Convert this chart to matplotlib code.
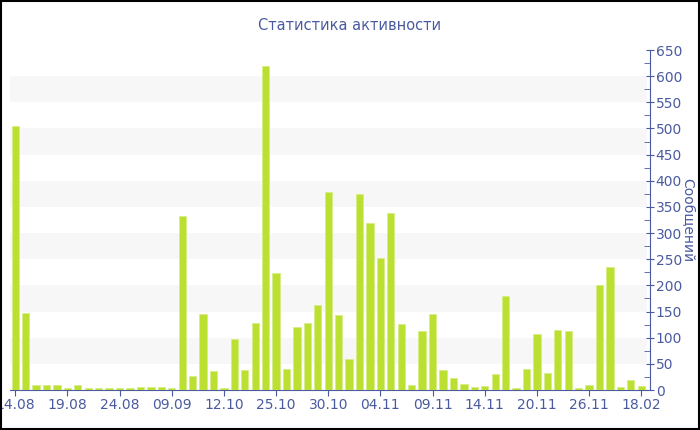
import matplotlib
matplotlib.use("Agg")
import matplotlib.pyplot as plt
from matplotlib.ticker import MultipleLocator
import numpy as np

# messages per day
messages = [505, 147, 9, 9, 9, 3, 9, 4, 3, 3,
            4, 4, 6, 5, 5, 3, 333, 27, 145, 37,
            3, 97, 38, 129, 620, 223, 40, 120, 128, 163,
            379, 143, 59, 375, 319, 253, 339, 126, 9, 112,
            145, 38, 22, 12, 5, 8, 31, 180, 4, 40,
            108, 32, 114, 112, 3, 9, 201, 236, 6, 20, 8]
tick_labels = ["14.08", "19.08", "24.08", "09.09", "12.10", "25.10", "30.10",
               "04.11", "09.11", "14.11", "20.11", "26.11", "18.02"]
band_starts = [50, 150, 250, 350, 450, 550]

BLUE = "#4a5aa0"
GREEN = "#bce032"

fig = plt.figure(figsize=(7, 4.3), dpi=100)
ax = fig.add_axes([10 / 700, 40 / 430, 637 / 700, 340 / 430])

x = np.arange(len(messages))
ax.bar(x, messages, width=0.7, color=GREEN, edgecolor="#d6ee85",
       linewidth=0.6, zorder=3)

for b in band_starts:
    ax.axhspan(b, b + 50, color="#f7f7f7", lw=0, zorder=0)

ax.set_xlim(-0.5, len(messages) - 0.45)
ax.set_ylim(0, 650)

ax.yaxis.tick_right()
ax.yaxis.set_label_position("right")
ax.yaxis.set_major_locator(MultipleLocator(50))
ax.yaxis.set_minor_locator(MultipleLocator(25))
ax.tick_params(axis="y", which="major", direction="inout", length=6,
               color=BLUE, labelcolor=BLUE, labelsize=10, pad=1)
ax.tick_params(axis="y", which="minor", direction="in", length=4, color=BLUE)

ax.set_xticks(x[::5])
ax.set_xticklabels(tick_labels)
ax.tick_params(axis="x", direction="out", length=4, color=BLUE,
               labelcolor=BLUE, labelsize=10, pad=2)

for side in ["top", "left"]:
    ax.spines[side].set_visible(False)
for side in ["bottom", "right"]:
    ax.spines[side].set_color(BLUE)
ax.spines["right"].set_position(("axes", 1.005))

ax.set_ylabel("Сообщений", color=BLUE, fontsize=10, rotation=270, labelpad=9)
fig.text(0.5, 1 - 25 / 430, "Статистика активности", color=BLUE,
         fontsize=10.5, ha="center", va="center")

# frame around the whole picture
fig.patches.append(plt.Rectangle((0.001, 0.002), 0.997, 0.996,
                                 transform=fig.transFigure, fill=False,
                                 edgecolor="black", linewidth=1.5))

fig.savefig("out.png", dpi=100)
